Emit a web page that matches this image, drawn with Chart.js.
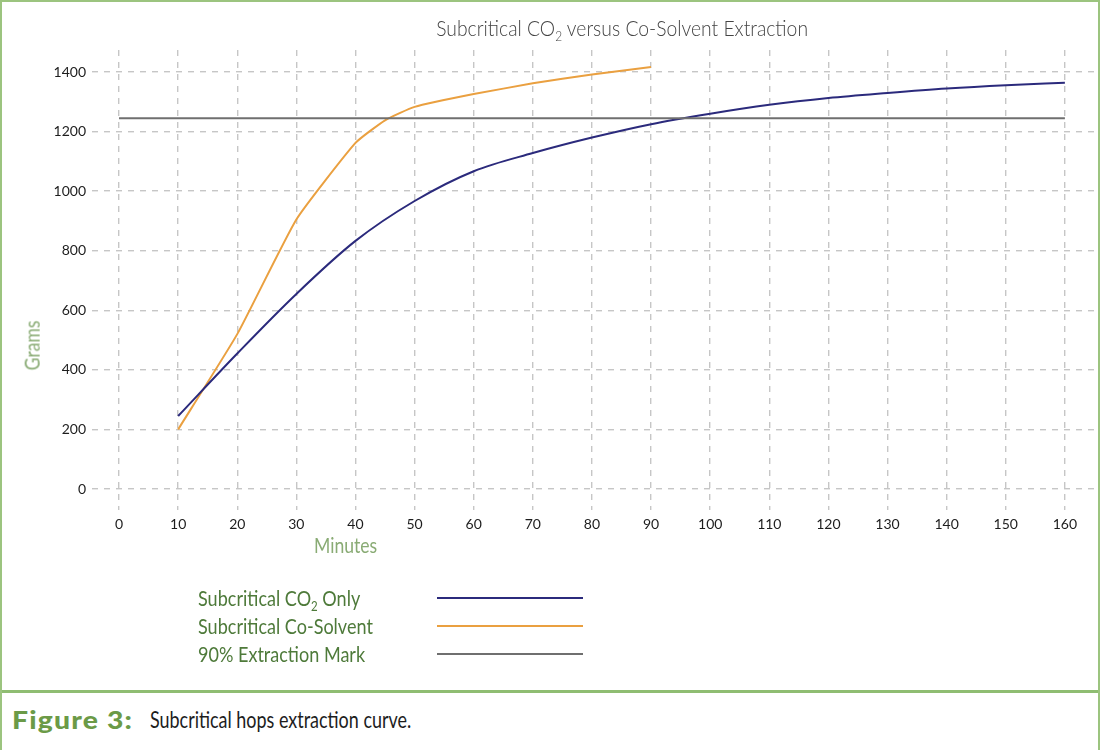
<!DOCTYPE html>
<html>
<head>
<meta charset="utf-8">
<title>Subcritical hops extraction curve</title>
<script src="https://cdn.jsdelivr.net/npm/chart.js@4"></script>
<style>
    body {
        margin: 0;
        background: #fff;
    }

    .frame {
        position: relative;
        width: 1100px;
        height: 750px;
        overflow: hidden;
        box-sizing: border-box;
        border-top: 2px solid #9cc47f;
        border-left: 2px solid #9cc47f;
        border-right: 2px solid #9cc47f;
        font-family: Lato, "Noto Sans", sans-serif;
    }

    .chart-box {
        position: absolute;
        left: -2px;
        top: -2px;
        width: 1100px;
        height: 560px;
    }

    .squeeze {
        display: inline-block;
        white-space: nowrap;
    }

    .title {
        position: absolute;
        left: 0;
        width: 1240px;
        top: 13px;
        text-align: center;
        font-size: 21px;
        color: #444;
        font-weight: 300;
    }

    .title .squeeze {
        transform: scaleX(0.92);
    }

    .axis-title {
        position: absolute;
        color: #89ab74;
        font-size: 22px;
        font-weight: 400;
        white-space: nowrap;
    }

    .legend {
        position: absolute;
        left: 196px;
        top: 582px;
    }

    .legend-row {
        position: relative;
        height: 28px;
        font-size: 22px;
        color: #4e7a3a;
        line-height: 28px;
        width: 400px;
    }

    .legend-row .squeeze {
        transform: scaleX(0.82);
        transform-origin: left center;
    }

    .legend-row span.swatch {
        position: absolute;
        left: 239px;
        top: 13px;
        width: 146px;
        height: 2px;
    }

    .legend-row sub {
        font-size: 14px;
        vertical-align: -5px;
    }

    .caption {
        position: absolute;
        left: 0;
        right: 0;
        top: 688px;
        bottom: 0;
        border-top: 3px solid #8fbd72;
        font-size: 22px;
        color: #1d1d1d;
    }

    .caption .fig {
        position: absolute;
        left: 10px;
        top: 12px;
        font-weight: 900;
        font-size: 24px;
        letter-spacing: 1px;
        color: #6b9a47;
        white-space: nowrap;
        transform: scaleX(1.18);
        transform-origin: left center;
    }

    .caption .text {
        position: absolute;
        left: 148px;
        top: 12px;
        font-size: 23px;
        transform: scaleX(0.78);
        transform-origin: left center;
        white-space: nowrap;
    }
</style>
</head>
<body>
<div class="frame">
    <div class="chart-box">
        <canvas id="extractionChart" width="1100" height="560"></canvas>
    </div>

    <div class="title"><span class="squeeze">Subcritical CO<sub style="font-size:13px">2</sub> versus Co-Solvent Extraction</span></div>
    <div class="axis-title" style="left:-2px; top:330px; transform:rotate(-90deg) scaleX(0.8);">Grams</div>
    <div class="axis-title" style="left:312px; top:529px; transform:scaleX(0.8); transform-origin:left center;">Minutes</div>

    <div class="legend">
        <div class="legend-row"><span class="squeeze">Subcritical CO<sub>2</sub> Only</span><span class="swatch" style="background:#2b2a7c"></span></div>
        <div class="legend-row"><span class="squeeze">Subcritical Co-Solvent</span><span class="swatch" style="background:#eaa040"></span></div>
        <div class="legend-row"><span class="squeeze">90% Extraction Mark</span><span class="swatch" style="background:#6f6f6f"></span></div>
    </div>

    <div class="caption">
        <span class="fig">Figure 3:</span>
        <span class="text">Subcritical hops extraction curve.</span>
    </div>
</div>

<script>
    // values (minutes -> grams)
    const co2Minutes = [10, 20, 30, 40, 50, 60, 70, 80, 90, 100, 110, 120, 130, 140, 150, 160];
    const co2Grams = [245, 455, 655, 833, 967, 1067, 1128, 1180, 1225, 1260, 1290, 1313, 1330, 1345, 1356, 1364];

    const solventMinutes = [10, 20, 30, 40, 45, 50, 60, 70, 80, 90];
    const solventGrams = [200, 520, 905, 1162, 1238, 1283, 1326, 1362, 1392, 1417];

    const markMinutes = [0, 160];
    const markGrams = [1245, 1245];

    const xTicks = [0, 10, 20, 30, 40, 50, 60, 70, 80, 90, 100, 110, 120, 130, 140, 150, 160];
    const yTicks = [0, 200, 400, 600, 800, 1000, 1200, 1400];

    function toPoints(xs, ys) {
        return xs.map((x, i) => ({ x: x, y: ys[i] }));
    }

    const gridStyle = {
        color: "#c6c6c6",
        lineWidth: 1.4,
        drawTicks: false,
    };

    const tickStyle = {
        padding: 6,
        color: "#1d1d1d",
        font: { family: "Lato, 'Noto Sans', sans-serif", size: 14 },
        callback: (value) => String(value),
    };

    new Chart(document.getElementById("extractionChart"), {
        type: "line",
        data: {
            datasets: [
                {
                    label: "90% Extraction Mark",
                    data: toPoints(markMinutes, markGrams),
                    borderColor: "#6f6f6f",
                    borderWidth: 2,
                    pointRadius: 0,
                },
                {
                    label: "Subcritical CO2 Only",
                    data: toPoints(co2Minutes, co2Grams),
                    borderColor: "#2b2a7c",
                    borderWidth: 2,
                    pointRadius: 0,
                    cubicInterpolationMode: "monotone",
                },
                {
                    label: "Subcritical Co-Solvent",
                    data: toPoints(solventMinutes, solventGrams),
                    borderColor: "#eaa040",
                    borderWidth: 2,
                    pointRadius: 0,
                    tension: 0.15,
                },
            ],
        },
        options: {
            responsive: false,
            animation: false,
            layout: {
                padding: { top: 50, right: 2, left: 0, bottom: 0 },
            },
            plugins: {
                legend: { display: false },
                tooltip: { enabled: false },
            },
            scales: {
                x: {
                    type: "linear",
                    min: -4.57,
                    max: 165.6,
                    afterBuildTicks: (axis) => {
                        axis.ticks = xTicks.map((v) => ({ value: v }));
                    },
                    afterFit: (axis) => {
                        axis.height = 50;
                    },
                    grid: gridStyle,
                    border: { display: false, dash: [6, 6] },
                    ticks: tickStyle,
                },
                y: {
                    min: -70.5,
                    max: 1474,
                    afterBuildTicks: (axis) => {
                        axis.ticks = yTicks.map((v) => ({ value: v }));
                    },
                    afterFit: (axis) => {
                        axis.width = 92;
                    },
                    grid: gridStyle,
                    border: { display: false, dash: [6, 6] },
                    ticks: tickStyle,
                },
            },
        },
    });
</script>
</body>
</html>
